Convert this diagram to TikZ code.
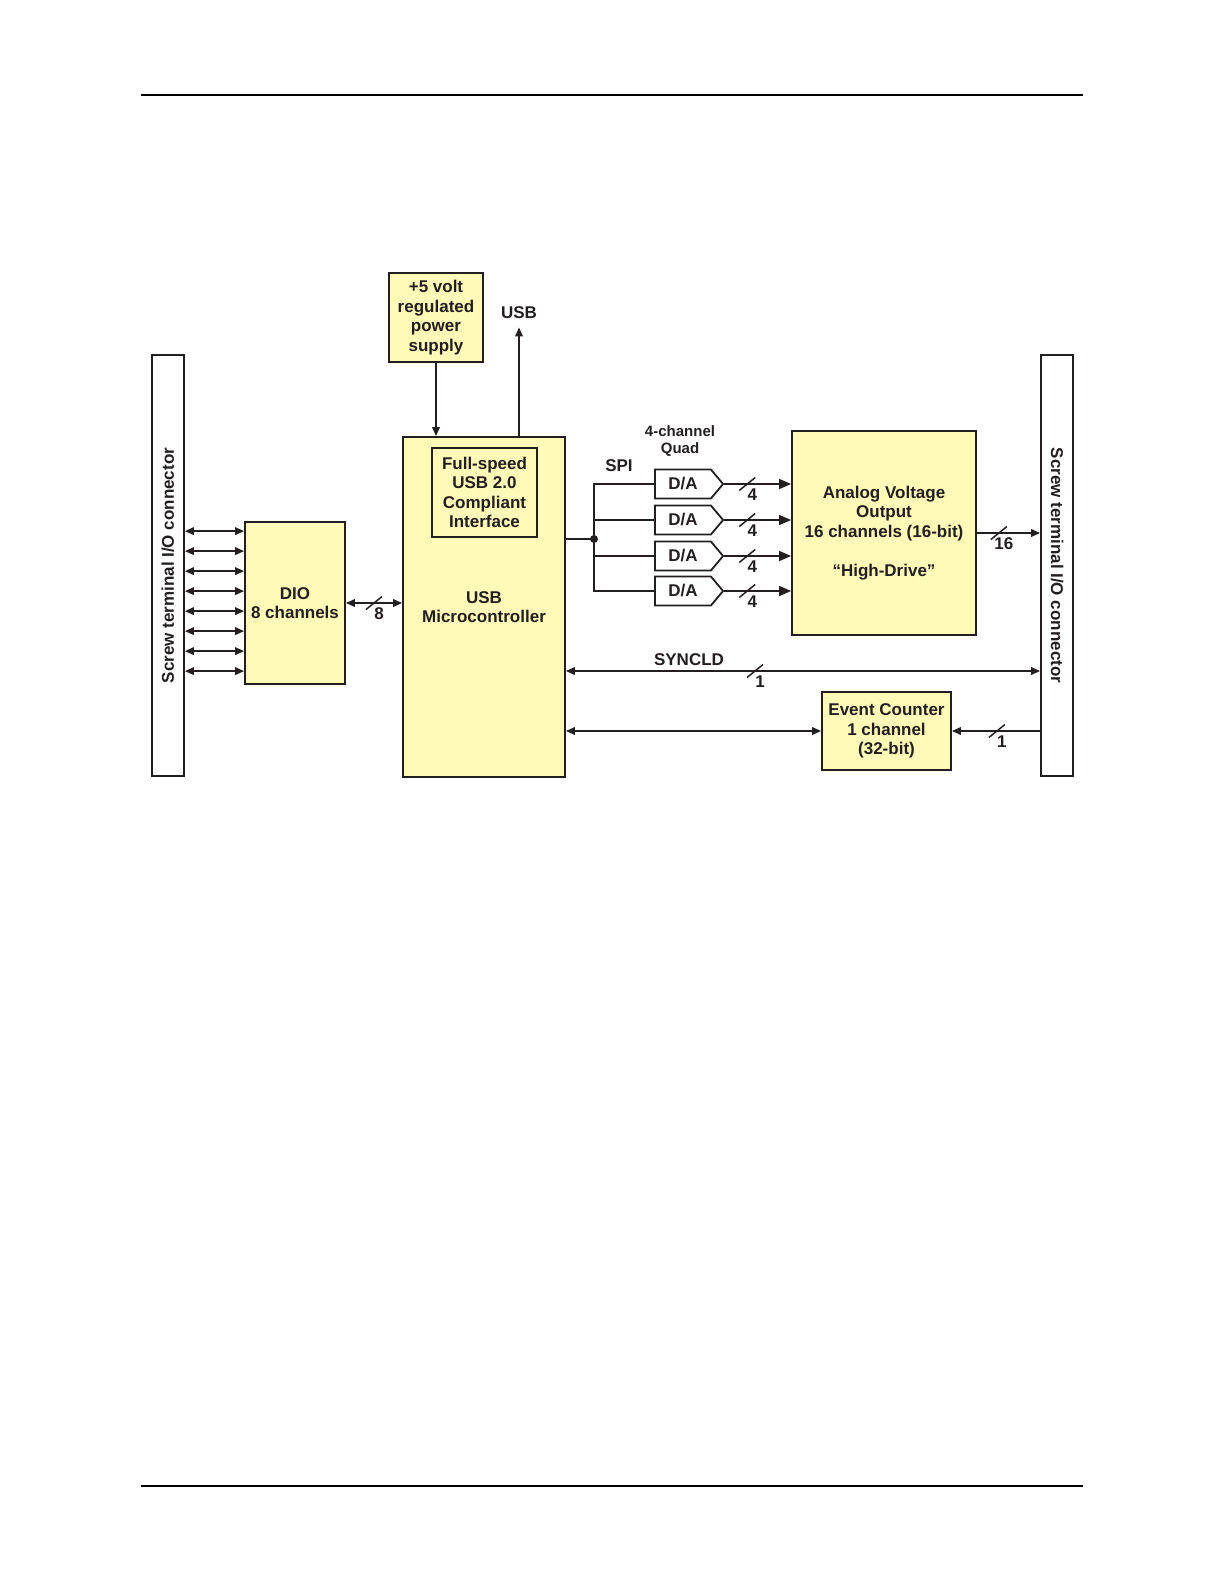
\documentclass[tikz,border=0pt]{standalone}
\usepackage{fontspec}
\setmainfont{Liberation Sans}
\usetikzlibrary{positioning}
\usetikzlibrary{shapes.symbols}
\usetikzlibrary{arrows.meta}
\usetikzlibrary{calc}
\definecolor{PALEYELLOW}{HTML}{FFFAB8}
\definecolor{INK}{HTML}{231F20}
\tikzset{
	every node/.style = {font=\fontsize{8.5}{9.75}\selectfont\bfseries, align=center, inner sep=0pt, text=INK},
	busmark/.pic = {
		\draw[line width=0.75pt, INK] (-8,6.5) -- (8,-6.5);
		\node at (5,11) {\tikzpictext};
	}
}

\begin{document}
\begin{tikzpicture}[x=0.5pt, y=-0.5pt, >={Triangle[length=4.5pt,width=3.8pt]},
		box/.style = {draw=INK, line width=0.9pt, fill=PALEYELLOW},
		conbox/.style = {draw=INK, line width=0.9pt, fill=white, minimum width=16pt, minimum height=210.5pt},
		dac/.style = {draw=INK, line width=0.9pt, fill=white, signal, signal to=east, signal pointer angle=100, minimum width=34pt, minimum height=14.5pt},
		link/.style = {draw=INK, line width=0.8pt},
		bigtip/.style = {-{Triangle[length=6pt,width=5pt]}}]
		\useasboundingbox (0,0) rectangle (1225,1585);
		% page rules
		\draw[line width=1pt, black] (141,95) -- (1083,95);
		\draw[line width=1pt, black] (141,1486) -- (1083,1486);
		% screw terminals
		\node[conbox] (conL) at (168,565.5) {};
		\node[rotate=90] (conLtext) at (conL) {Screw terminal I/O connector};
		\node[conbox] (conR) at (1057,565.5) {};
		\node[rotate=-90] (conRtext) at (conR) {Screw terminal I/O connector};
		% blocks
		\node[box, minimum width=47pt, minimum height=44.5pt] (psu) at (436,317.5) {+5 volt\\regulated\\power\\supply};
		\node[box, minimum width=81pt, minimum height=170pt] (mcu) at (484,607) {USB\\Microcontroller};
		\node[box, minimum width=52.5pt, minimum height=44.5pt] (usbif) at (484.5,492.5) {Full-speed\\USB 2.0\\Compliant\\Interface};
		\node[box, minimum width=50pt, minimum height=81pt] (dio) at (295,603) {DIO\\8 channels};
		\node[box, minimum width=92pt, minimum height=102pt] (avo) at (884,533) {Analog Voltage\\Output\\16 channels (16-bit)\\[9.75pt]“High-Drive”};
		\node[box, minimum width=64.5pt, minimum height=39pt] (ec) at (886.5,731) {Event Counter\\1 channel\\(32-bit)};
		\foreach \i/\y in {1/484, 2/520, 3/556, 4/591}
			\node[dac] (da\i) at (683,\y) {D/A};
		% labels
		\node (usb) at (519,313) {USB};
		\node[font=\fontsize{7.5}{8.5}\selectfont\bfseries] (quad) at (680,441.5) {4-channel\\Quad};
		\node (spilbl) at (619,466) {SPI};
		\node (synclbl) at (689,660) {SYNCLD};
		% power and usb
		\draw[link,->] (psu.south) -- (psu.south |- mcu.north);
		\draw[link,->] (mcu.north -| usb) -- ([yshift=-4pt]usb.south);
		% digital io
		\foreach \k in {0,...,7}
			\draw[link,<->] ([yshift=-5pt-\k*10pt]dio.north west) coordinate (io\k) -- (io\k -| conL.east);
		\draw[link,<->] (dio.east) -- (dio.east -| mcu.west);
		\pic[pic text=8] at ($(dio.east)!0.5!(dio.east -| mcu.west)$) {busmark};
		% spi bus
		\coordinate (spi) at (594,539);
		\draw[link] (spi -| mcu.east) -- (spi);
		\fill[INK] (spi) circle (4);
		\draw[link] (da1.west) -| (spi) |- (da4.west);
		\draw[link] (da2.west -| spi) -- (da2.west);
		\draw[link] (da3.west -| spi) -- (da3.west);
		\foreach \i in {1,...,4} {
			\draw[link,bigtip] (da\i.east) -- (da\i.east -| avo.west);
			\pic[pic text=4] at ([xshift=11.5pt]da\i.east) {busmark};
		}
		% outputs
		\draw[link,->] (avo.east) -- (avo.east -| conR.west);
		\pic[pic text=16] at ([xshift=11pt]avo.east) {busmark};
		\coordinate (sync) at (755,671);
		\draw[link,<->] (sync -| mcu.east) -- (sync -| conR.west);
		\pic[pic text=1] at (sync) {busmark};
		% event counter
		\draw[link,<->] (ec.west -| mcu.east) -- (ec.west);
		\draw[link,->] (ec.east -| conR.west) -- (ec.east);
		\pic[pic text=1] at ([xshift=22.5pt]ec.east) {busmark};
	\end{tikzpicture}
\end{document}
